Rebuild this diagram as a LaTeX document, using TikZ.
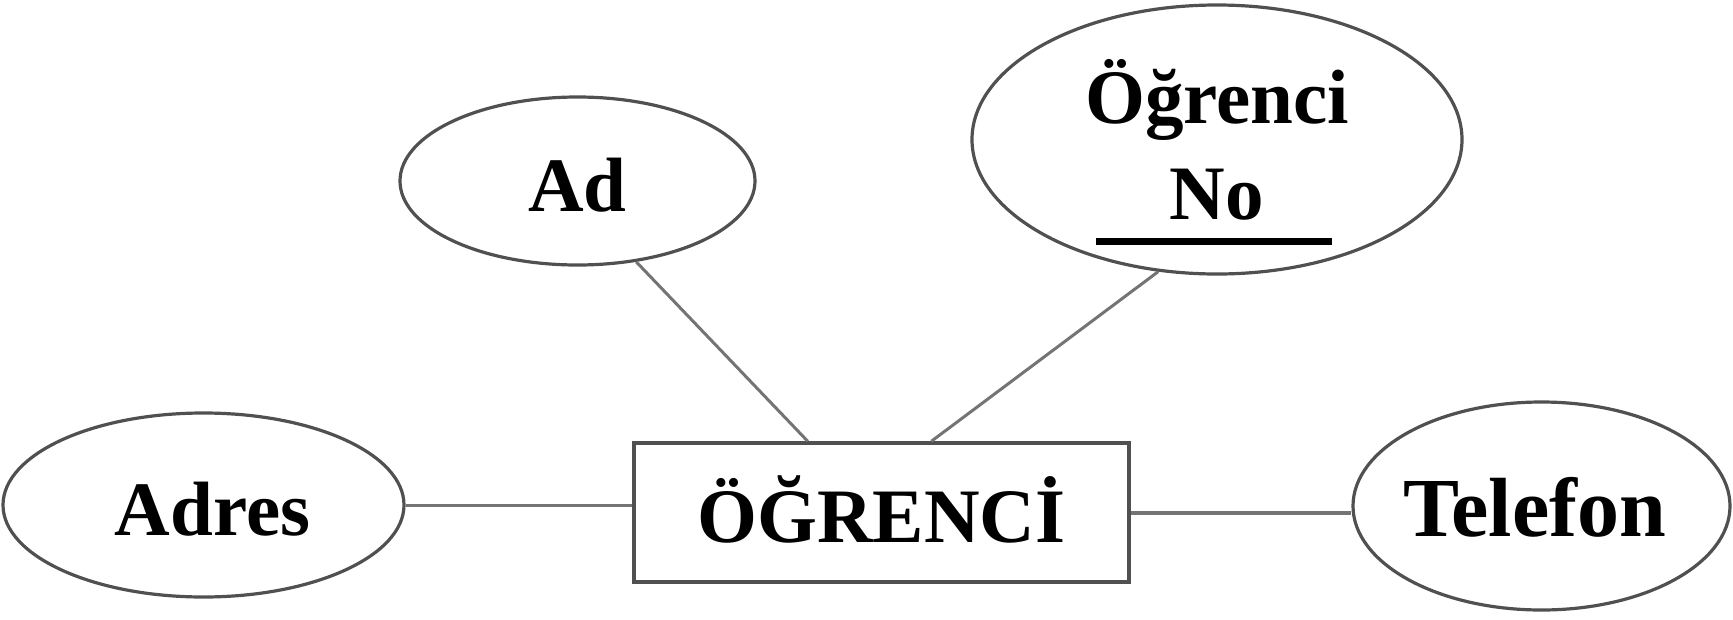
\documentclass[tikz,border=0pt]{standalone}
\usepackage{fontspec}
\setmainfont{Liberation Serif}
\usetikzlibrary{shapes.geometric,calc}
\definecolor{ellcol}{HTML}{505050}
\definecolor{lincol}{HTML}{747474}
\begin{document}
\begin{tikzpicture}[x=1pt,y=-1pt,
  bigfont/.style={font=\bfseries\fontsize{77}{96}\selectfont},
  attr/.style={ellipse,draw=ellcol,line width=3.2pt,inner sep=0pt,bigfont},
  oneline/.style={text height=60pt,text depth=0pt},
  entity/.style={rectangle,draw=ellcol,line width=3.5pt,inner sep=0pt,bigfont,oneline},
  conn/.style={draw=lincol,line width=3pt}]
\useasboundingbox (0,0) rectangle (1733,619);
\node[attr,oneline,minimum width=355pt,minimum height=168pt] (ad) at (577.5,181) {Ad};
\node[attr,align=center,minimum width=490pt,minimum height=269pt] (on) at (1217,139.5) {Öğrenci\\No};
\node[attr,oneline,minimum width=401pt,minimum height=184pt] (adres) at (203.5,505) {\makebox[0pt]{\hspace*{18pt}Adres}};
\node[attr,oneline,minimum width=377pt,minimum height=208pt,font=\bfseries\fontsize{84}{96}\selectfont] (tel) at (1541.5,506) {\makebox[0pt]{Telefon\hspace*{14pt}}};
\node[entity,minimum width=495pt,minimum height=139pt] (og) at (881.5,512.5) {ÖĞRENCİ};
\draw[black,line width=7pt] ($(on.center)+(-121,102)$) -- ($(on.center)+(115,102)$);
\coordinate (adtop) at ($(og.north west)!0.352!(og.north east)$);
\coordinate (ontop) at ($(og.north west)!0.6!(og.north east)$);
\draw[conn] (ad.-54) -- (adtop);
\draw[conn] (on.-114) -- (ontop);
\draw[conn] (adres.east) -- (adres.east -| og.west);
\draw[conn,line width=4pt] (og.east) -- (og.east -| tel.west);
\end{tikzpicture}
\end{document}
